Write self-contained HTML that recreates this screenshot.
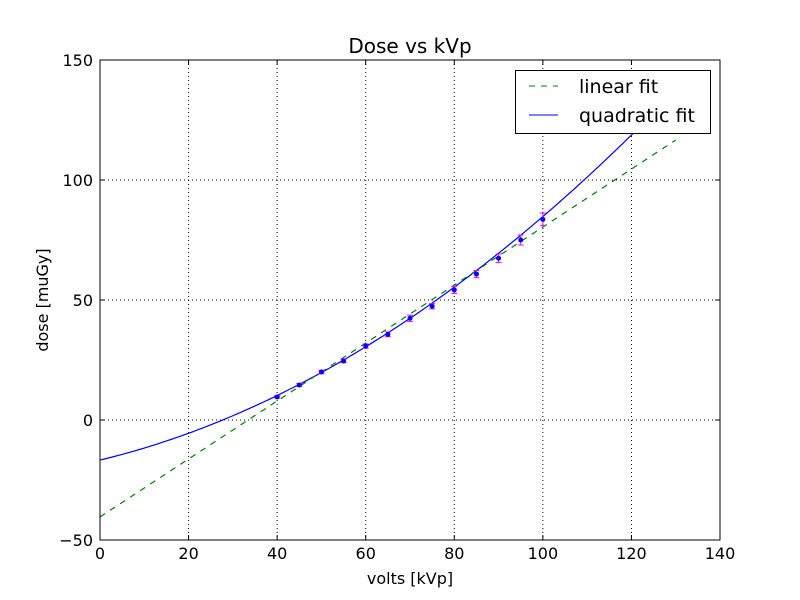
<!DOCTYPE html>
<html><head><meta charset="utf-8"><style>
body{margin:0;background:#fff;}
svg{display:block;font-family:"DejaVu Sans","Liberation Sans",sans-serif;}
</style></head><body>
<svg id="chart" width="800" height="600" viewBox="0 0 800 600" xmlns="http://www.w3.org/2000/svg">
<rect width="800" height="600" fill="#fff"/>
<g id="grid"></g>
<g id="plot"></g>
<rect x="100" y="60" width="620" height="480" fill="none" stroke="#000" stroke-width="1"/>
<g id="ticks"></g>
<text x="410" y="53" text-anchor="middle" font-size="20">Dose vs kVp</text>
<text x="410" y="584" text-anchor="middle" font-size="16">volts [kVp]</text>
<text transform="translate(48,300) rotate(-90)" text-anchor="middle" font-size="16">dose [muGy]</text>
<g>
<rect x="515.5" y="70.5" width="195" height="63" fill="#fff" stroke="#000"/>
<line x1="529" y1="86" x2="558" y2="86" stroke="green" stroke-dasharray="6,6"/>
<text x="579" y="93" font-size="19">linear fit</text>
<line x1="529" y1="115" x2="558" y2="115" stroke="blue"/>
<text x="579" y="122" font-size="19">quadratic fit</text>
</g>
</svg>
<script>
const kvp=[40,45,50,55,60,65,70,75,80,85,90,95,100];
const dose=[9.6,14.6,20,24.6,30.8,35.7,42.4,47.4,54.2,60.8,67.4,75,83.6];
const doseErr=[0.5,0.6,0.7,0.7,0.9,1.0,1.3,1.1,1.5,1.5,1.8,2.1,2.6];
const linearCoef=[-40.4,1.208];
const quadCoef=[-16.7,0.4447,0.0057];
const xTicks=[0,20,40,60,80,100,120,140];
const yTicks=[-50,0,50,100,150];
const fitRange=[0,130];
const X=v=>100+v/140*620, Y=v=>540-(v+50)/200*480;
const NS="http://www.w3.org/2000/svg";
function mk(parent,tag,attrs){const e=document.createElementNS(NS,tag);for(const k in attrs)e.setAttribute(k,attrs[k]);parent.appendChild(e);return e;}
const grid=document.getElementById('grid'),ticks=document.getElementById('ticks'),plot=document.getElementById('plot');
xTicks.forEach(t=>{
 const g=mk(grid,'line',{x1:X(t),x2:X(t),y1:60,y2:540,stroke:'#000','stroke-dasharray':'1,3','stroke-width':1});
 
 
 mk(ticks,'line',{x1:X(t),x2:X(t),y1:540,y2:535,stroke:'#000'});
 mk(ticks,'line',{x1:X(t),x2:X(t),y1:60,y2:65,stroke:'#000'});
 const l=mk(ticks,'text',{x:X(t),y:559,'text-anchor':'middle','font-size':16});l.textContent=t;
 
 
});
yTicks.forEach(t=>{
 const g=mk(grid,'line',{x1:100,x2:720,y1:Y(t),y2:Y(t),stroke:'#000','stroke-dasharray':'1,3','stroke-width':1});
 
 
 mk(ticks,'line',{x1:100,x2:105,y1:Y(t),y2:Y(t),stroke:'#000'});
 mk(ticks,'line',{x1:715,x2:720,y1:Y(t),y2:Y(t),stroke:'#000'});
 const l=mk(ticks,'text',{x:93,y:Y(t)+6,'text-anchor':'end','font-size':16});l.textContent=(t<0?'\u2212'+(-t):t);
 
 
});
mk(plot,'clipPath',{id:'clip'}).appendChild(document.createElementNS(NS,'rect'));
const cr=plot.querySelector('clipPath rect');cr.setAttribute('x',100);cr.setAttribute('y',60);cr.setAttribute('width',620);cr.setAttribute('height',480);
let lp='',qp='';
for(let v=fitRange[0];v<=fitRange[1];v+=1){
 const ly=linearCoef[0]+linearCoef[1]*v, qy=quadCoef[0]+quadCoef[1]*v+quadCoef[2]*v*v;
 lp+=(v===fitRange[0]?'M':'L')+X(v).toFixed(2)+','+Y(ly).toFixed(2);
 qp+=(v===fitRange[0]?'M':'L')+X(v).toFixed(2)+','+Y(qy).toFixed(2);
}
const ql=mk(plot,'path',{d:qp,fill:'none',stroke:'blue','stroke-width':1.2,'clip-path':'url(#clip)'});


const ll=mk(plot,'path',{d:lp,fill:'none',stroke:'green','stroke-width':1.2,'stroke-dasharray':'6,6','clip-path':'url(#clip)'});


kvp.forEach((k,i)=>{
 const x=X(k),y1=Y(dose[i]-doseErr[i]),y2=Y(dose[i]+doseErr[i]);
 const eb=mk(plot,'g',{stroke:'magenta','stroke-width':1});
 
 
 mk(eb,'line',{x1:x,x2:x,y1:y1,y2:y2});
 mk(eb,'line',{x1:x-3,x2:x+3,y1:y1,y2:y1});
 mk(eb,'line',{x1:x-3,x2:x+3,y1:y2,y2:y2});
});
kvp.forEach((k,i)=>{
 const p=mk(plot,'circle',{cx:X(k),cy:Y(dose[i]),r:2.5,fill:'blue'});
 
 
});
</script>
</body></html>
